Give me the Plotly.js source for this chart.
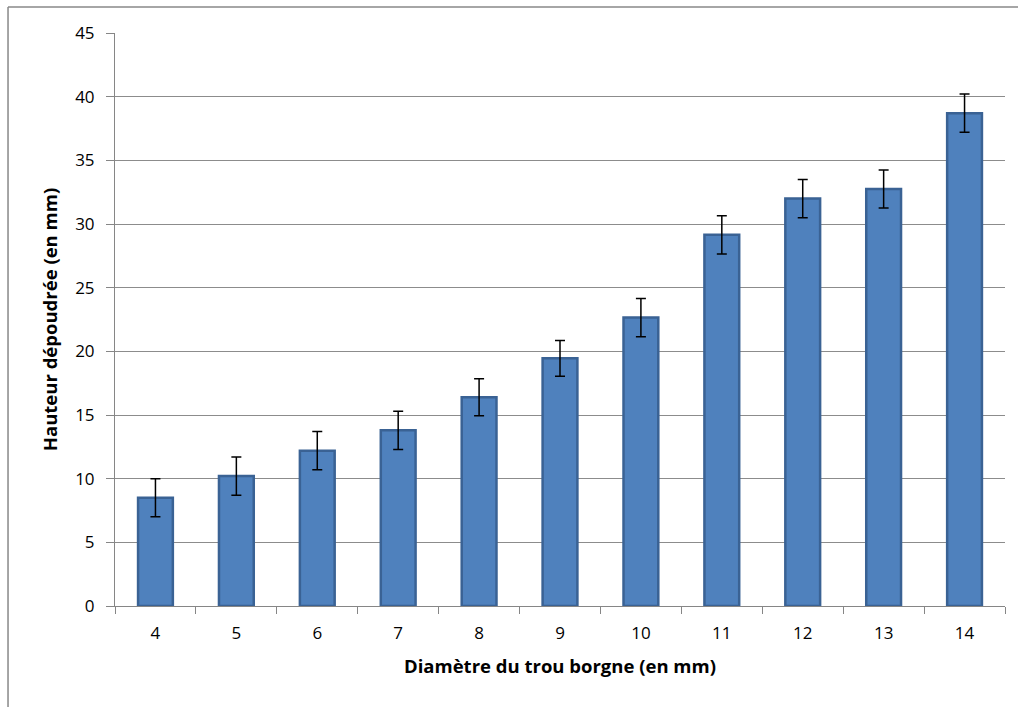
<!DOCTYPE html>
<html>
<head>
<meta charset="utf-8">
<script src="https://cdn.plot.ly/plotly-3.0.1.min.js"></script>
<style>
html,body{margin:0;padding:0;background:#fff;overflow:hidden;}
#chart{width:1018px;height:707px;}
</style>
</head>
<body>
<div id="chart"></div>
<script>
const diametres = ["4","5","6","7","8","9","10","11","12","13","14"];
const hauteurs = [8.5, 10.2, 12.2, 13.8, 16.4, 19.45, 22.65, 29.15, 32.0, 32.75, 38.7];
const erreurs = [1.5, 1.5, 1.5, 1.5, 1.45, 1.4, 1.5, 1.5, 1.5, 1.5, 1.5];
const yTicks = [0,5,10,15,20,25,30,35,40,45];

const font = "Open Sans, Liberation Sans, sans-serif";

const trace = {
  type: "bar",
  x: diametres,
  y: hauteurs,
  marker: {color: "#4F81BD", line: {color: "#3A6294", width: 2.5}},
  error_y: {type: "data", array: erreurs, visible: true, color: "#000000", thickness: 1.5, width: 5},
  hoverinfo: "x+y"
};

const layout = {
  width: 1018, height: 707,
  margin: {l: 115, r: 13, t: 33, b: 101},
  paper_bgcolor: "#ffffff",
  plot_bgcolor: "#ffffff",
  bargap: 0.57,
  showlegend: false,
  font: {family: font, size: 17, color: "#000"},
  xaxis: {
    type: "category",
    tickson: "boundaries",
    ticks: "outside",
    ticklen: 7,
    tickcolor: "#868686",
    showline: true,
    linecolor: "#868686",
    linewidth: 1,
    showgrid: false,
    tickfont: {family: font, size: 17, color: "#000"},
    ticklabelstandoff: 12,
    title: {text: "Diamètre du trou borgne (en mm)", font: {family: font, size: 18.5, color: "#000", weight: "bold"}, standoff: 16}
  },
  yaxis: {
    range: [0, 45],
    tickvals: yTicks,
    ticks: "outside",
    ticklen: 8,
    tickcolor: "#868686",
    showline: true,
    linecolor: "#868686",
    linewidth: 1,
    showgrid: true,
    gridcolor: "#8c8c8c",
    gridwidth: 1,
    zeroline: false,
    tickfont: {family: font, size: 17, color: "#000"},
    ticklabelstandoff: 8,
    title: {text: "Hauteur dépoudrée (en mm)", font: {family: font, size: 18.5, color: "#000", weight: "bold"}, standoff: 12}
  },
  shapes: [
    {type: "line", xref: "paper", yref: "paper", x0: -0.1202, x1: -0.1202, y0: 1.0454, y1: -0.3, line: {color: "#888888", width: 1.5}},
    {type: "line", xref: "paper", yref: "paper", x0: -0.1202, x1: 1.2, y0: 1.0454, y1: 1.0454, line: {color: "#888888", width: 1.5}}
  ]
};

Plotly.newPlot("chart", [trace], layout, {displayModeBar: false, staticPlot: true});
</script>
</body>
</html>
